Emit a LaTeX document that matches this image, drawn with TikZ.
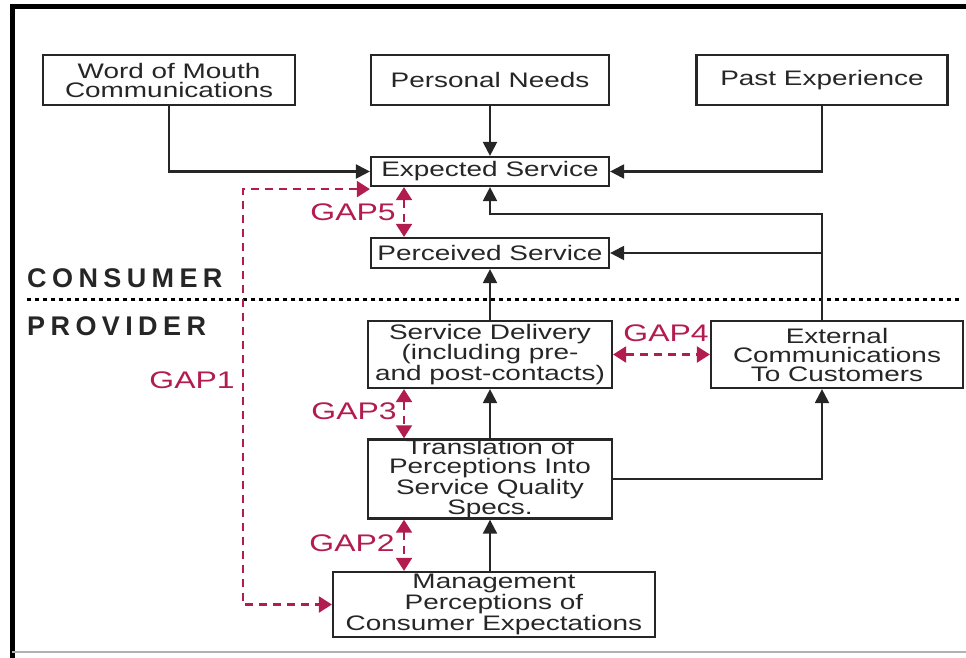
\documentclass[tikz,border=0pt]{standalone}
\usepackage{fontspec}
\setmainfont[FakeStretch=1.33]{Liberation Sans}
\newfontfamily\zonefont[LetterSpace=20]{Liberation Sans}
\usetikzlibrary{arrows.meta}
\definecolor{gapred}{RGB}{178,28,78}
\tikzset{
  box/.style={draw=black!85, line width=2.2pt, align=center, inner sep=0pt,
    text=black!85, font=\fontsize{21}{19}\selectfont},
  link/.style={draw=black!85, line width=2.2pt, -{Triangle[length=14pt,width=14pt]}},
  gaplink/.style={draw=gapred, line width=2.2pt, dash pattern=on 8pt off 6pt,
    {Triangle[length=13pt,width=16pt]}-{Triangle[length=13pt,width=16pt]}},
  gaplabel/.style={text=gapred, font=\fontsize{24}{20}\selectfont},
  zone/.style={text=black!85, anchor=base west, inner sep=0pt,
    font=\zonefont\bfseries\fontsize{27}{27}\selectfont}
}
\begin{document}
\begin{tikzpicture}[x=1pt,y=-1pt]
\useasboundingbox (0,0) rectangle (966,658);
\draw[line width=5pt] (12,658) -- (12,7) -- (966,7);
\draw[black!30, line width=1.5pt] (12,652) -- (966,652);
% consumer side
\node[box, minimum width=252pt, minimum height=50pt] (wom) at (169,80) {Word of Mouth\\Communications};
\node[box, minimum width=238pt, minimum height=50pt] (needs) at (490,80) {Personal Needs};
\node[box, minimum width=251pt, minimum height=50pt] (past) at (822,80) {Past Experience};
\node[box, minimum width=238pt, minimum height=29pt] (expected) at (490,171.5) {Expected Service};
\node[box, minimum width=238pt, minimum height=30pt] (perceived) at (490,253) {Perceived Service};
\node[zone] (consumer) at (27,287) {CONSUMER};
\draw[line width=3pt, dash pattern=on 4pt off 4pt] (27,299) -- (960,299);
\node[zone] (provider) at (27,335) {PROVIDER};
% provider side
\node[box, minimum width=244pt, minimum height=67pt] (delivery) at (490,354.5) {Service Delivery\\(including pre-\\and post-contacts)};
\node[box, minimum width=252pt, minimum height=67pt] (extcomm) at (837,354.5) {External\\Communications\\To Customers};
\node[box, minimum width=244pt, minimum height=78pt] (transl) at (490,479) {Translation of\\Perceptions Into\\Service Quality\\Specs.};
\node[box, minimum width=322pt, minimum height=65pt] (mgmt) at (494,604.5) {Management\\Perceptions of\\Consumer Expectations};

\draw[link] (wom.south) |- (expected.west);
\draw[link] (needs.south) -- (expected.north);
\draw[link] (past.south) |- (expected.east);
\draw[link] ([xshift=-15pt]extcomm.north) |- ([yshift=-27pt]expected.south) -- (expected.south);
\draw[link] ([xshift=-15pt]extcomm.north |- perceived.east) -- (perceived.east);
\draw[link] (delivery.north) -- (perceived.south);
\draw[link] (transl.north) -- (delivery.south);
\draw[link] (transl.east) -| ([xshift=-15pt]extcomm.south);
\draw[link] (transl.south |- mgmt.north) -- (transl.south);

\coordinate (gapbend) at (243,400);
\draw[gaplink] ([yshift=-2pt]expected.south west) -| (gapbend) |- (mgmt.west);
\draw[gaplink] ([xshift=-86pt]expected.south) -- ([xshift=-86pt]perceived.north);
\draw[gaplink] ([xshift=-86pt]delivery.south) -- ([xshift=-86pt]transl.north);
\draw[gaplink] ([xshift=-86pt]transl.south) -- ([xshift=-86pt]transl.south |- mgmt.north);
\draw[gaplink] (delivery.east) -- (extcomm.west);
\node[gaplabel] (gap1) at (192,380) {GAP1};
\node[gaplabel] (gap2) at (352,543) {GAP2};
\node[gaplabel] (gap3) at (354,411) {GAP3};
\node[gaplabel] (gap4) at (666,333) {GAP4};
\node[gaplabel] (gap5) at (353,212) {GAP5};
\end{tikzpicture}
\end{document}
